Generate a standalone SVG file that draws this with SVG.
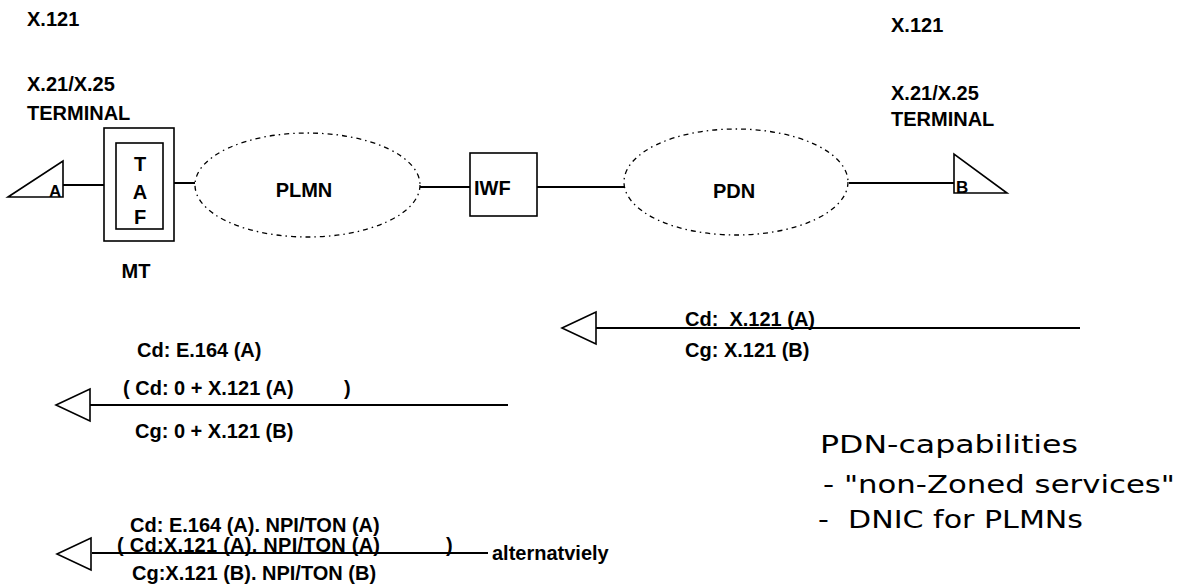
<svg xmlns="http://www.w3.org/2000/svg" xmlns:xlink="http://www.w3.org/1999/xlink" width="1179" height="584" viewBox="0 0 1179 584">
<style>
  text { font-family: "Liberation Sans", Arial, sans-serif; font-weight: bold; font-size: 20px; fill: #000; }
  .small { font-size: 17px; }
  .hand { font-family: "DejaVu Sans", sans-serif; font-weight: normal; font-size: 25px; }
  .box { fill: #fff; stroke: #000; stroke-width: 1.6; }
  .cloud { fill: none; stroke: #000; stroke-width: 1.3; stroke-dasharray: 5 4 1.5 4; }
  .conn { stroke: #000; stroke-width: 2; fill: none; }
  .head { fill: #fff; stroke: #000; stroke-width: 1.6; stroke-linejoin: miter; }
</style>
<defs>
  <path id="arrowhead" class="head" d="M0,0 L34,-16 L34,16 Z"/>
</defs>
<rect width="1179" height="584" fill="#fff"/>

<!-- labels over terminals -->
<g id="label-left">
  <text x="27" y="26">X.121</text>
  <text x="27" y="91">X.21/X.25</text>
  <text x="27" y="120">TERMINAL</text>
</g>
<g id="label-right">
  <text x="891" y="32">X.121</text>
  <text x="891" y="100">X.21/X.25</text>
  <text x="891" y="126">TERMINAL</text>
</g>

<!-- connectors -->
<g id="connectors">
  <line class="conn" x1="63" y1="185" x2="104" y2="185"/>
  <line class="conn" x1="163" y1="183" x2="195" y2="183"/>
  <line class="conn" x1="420" y1="187" x2="470" y2="187"/>
  <line class="conn" x1="537" y1="187" x2="624" y2="187"/>
  <line class="conn" x1="849" y1="183" x2="954" y2="183"/>
  <line class="conn" x1="594" y1="328" x2="1080" y2="328"/>
  <line class="conn" x1="90" y1="405" x2="508" y2="405"/>
  <line class="conn" x1="92" y1="553" x2="488" y2="553"/>
  <use xlink:href="#arrowhead" transform="translate(562,328)"/>
  <use xlink:href="#arrowhead" transform="translate(56,405)"/>
  <use xlink:href="#arrowhead" transform="translate(57,554)"/>
</g>

<g id="terminal-A">
  <polygon class="box" points="8,197 63,161 63,197"/>
  <text class="small" x="49" y="197">A</text>
</g>

<g id="MT">
  <rect class="box" x="104" y="128" width="70" height="113"/>
  <rect class="box" x="116" y="143" width="47" height="86"/>
  <text x="140" y="171" text-anchor="middle">T</text>
  <text x="140" y="199" text-anchor="middle">A</text>
  <text x="140" y="224" text-anchor="middle">F</text>
  <text x="136" y="278" text-anchor="middle">MT</text>
</g>

<g id="PLMN">
  <ellipse class="cloud" cx="307.5" cy="185" rx="112.5" ry="52"/>
  <text x="304" y="197" text-anchor="middle">PLMN</text>
</g>

<g id="IWF">
  <rect class="box" x="470" y="153" width="67" height="63"/>
  <text x="474" y="195">IWF</text>
</g>

<g id="PDN">
  <ellipse class="cloud" cx="736" cy="182" rx="112" ry="53"/>
  <text x="734" y="198" text-anchor="middle">PDN</text>
</g>

<g id="terminal-B">
  <polygon class="box" points="954,154 954,193 1007,193"/>
  <text class="small" x="956" y="193">B</text>
</g>

<g id="labels-flow1">
  <text x="685" y="326" xml:space="preserve">Cd:  X.121 (A)</text>
  <text x="685" y="357">Cg: X.121 (B)</text>
</g>

<g id="labels-flow2">
  <text x="137" y="357">Cd: E.164 (A)</text>
  <text x="123" y="395">( Cd: 0 + X.121 (A)</text>
  <text x="344" y="395">)</text>
  <text x="135" y="438">Cg: 0 + X.121 (B)</text>
</g>

<g id="labels-flow3">
  <text x="130" y="532">Cd: E.164 (A). NPI/TON (A)</text>
  <text x="117" y="552" textLength="263">( Cd:X.121 (A). NPI/TON (A)</text>
  <text x="446" y="552">)</text>
  <text x="492" y="560">alternatviely</text>
  <text x="132" y="580">Cg:X.121 (B). NPI/TON (B)</text>
</g>

<g id="note">
  <text class="hand" x="820" y="453" textLength="258" lengthAdjust="spacingAndGlyphs">PDN-capabilities</text>
  <text class="hand" x="823" y="493" textLength="352" lengthAdjust="spacingAndGlyphs">- "non-Zoned services"</text>
  <text class="hand" x="818" y="528" textLength="265" lengthAdjust="spacingAndGlyphs" xml:space="preserve">-  DNIC for PLMNs</text>
</g>
</svg>
